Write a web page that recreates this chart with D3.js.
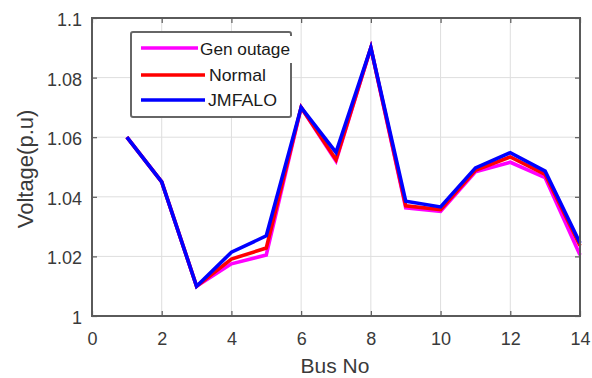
<!DOCTYPE html>
<html>
<head>
<meta charset="utf-8">
<script src="https://cdn.jsdelivr.net/npm/d3@7"></script>
<style>
  body { margin: 0; background: #fff; }
  text { font-family: "Liberation Sans", Arial, sans-serif; }
</style>
</head>
<body>
<svg id="chart" width="592" height="378"></svg>
<script>
// bus numbers and voltages
var buses = [1, 2, 3, 4, 5, 6, 7, 8, 9, 10, 11, 12, 13, 14];
var genOutage = [1.060, 1.045, 1.010, 1.0175, 1.0205, 1.070, 1.052, 1.090, 1.0363, 1.0351, 1.0484, 1.0516, 1.0464, 1.0205];
var normal    = [1.060, 1.045, 1.010, 1.0191, 1.0228, 1.070, 1.0525, 1.090, 1.037, 1.0357, 1.0489, 1.0534, 1.0475, 1.0236];
var jmfalo    = [1.060, 1.045, 1.010, 1.0214, 1.0269, 1.070, 1.0549, 1.090, 1.0385, 1.0366, 1.0497, 1.0548, 1.0486, 1.0245];
var xTicks = [0, 2, 4, 6, 8, 10, 12, 14];
var yTicks = [1, 1.02, 1.04, 1.06, 1.08, 1.1];
var seriesNames = ["Gen outage", "Normal", "JMFALO"];
var seriesColors = ["#ff00ff", "#ff0000", "#0000ff"];

var mLeft = 92, mRight = 580, mTop = 18, mBottom = 316;
var svg = d3.select("#chart");

var x = d3.scaleLinear().domain([0, 14]).range([mLeft, mRight]);
var y = d3.scaleLinear().domain([1, 1.1]).range([mBottom, mTop]);

// grid
svg.append("g").selectAll("line").data(xTicks.slice(1, -1)).enter().append("line")
  .attr("x1", d => x(d)).attr("x2", d => x(d)).attr("y1", mTop).attr("y2", mBottom)
  .attr("stroke", "#dedede").attr("stroke-width", 1);
svg.append("g").selectAll("line").data(yTicks.slice(1, -1)).enter().append("line")
  .attr("y1", d => y(d)).attr("y2", d => y(d)).attr("x1", mLeft).attr("x2", mRight)
  .attr("stroke", "#dedede").attr("stroke-width", 1);

// lines
var line = d3.line().x((d, i) => x(buses[i])).y(d => y(d));
[genOutage, normal, jmfalo].forEach(function(s, k) {
  svg.append("path").datum(s).attr("d", line)
    .attr("fill", "none").attr("stroke", seriesColors[k])
    .attr("stroke-width", 3.6).attr("stroke-linejoin", "miter");
});

// axes (box with ticks all round)
var axisColor = "#5a5a5a";
function styleAxis(g) {
  g.select(".domain").remove();
  g.selectAll(".tick line").attr("stroke", axisColor).attr("stroke-width", 1.2);
  g.selectAll(".tick text").attr("fill", "#3a3a3a").attr("font-size", 18)
    .attr("font-family", "Liberation Sans, Arial, sans-serif");
}
svg.append("g").attr("transform", "translate(0," + mBottom + ")")
  .call(d3.axisBottom(x).tickValues(xTicks).tickSizeInner(-5).tickSizeOuter(0).tickPadding(16))
  .call(styleAxis);
svg.append("g").attr("transform", "translate(0," + mTop + ")")
  .call(d3.axisTop(x).tickValues(xTicks).tickSizeInner(-5).tickSizeOuter(0).tickFormat(""))
  .call(styleAxis);
svg.append("g").attr("transform", "translate(" + mLeft + ",0)")
  .call(d3.axisLeft(y).tickValues(yTicks).tickSizeInner(-5).tickSizeOuter(0).tickPadding(10)
    .tickFormat(d3.format("~g")))
  .call(styleAxis)
  .selectAll(".tick text").attr("dy", "0.42em");
svg.append("g").attr("transform", "translate(" + mRight + ",0)")
  .call(d3.axisRight(y).tickValues(yTicks).tickSizeInner(-5).tickSizeOuter(0).tickFormat(""))
  .call(styleAxis);

svg.append("rect").attr("x", mLeft).attr("y", mTop)
  .attr("width", mRight - mLeft).attr("height", mBottom - mTop)
  .attr("fill", "none").attr("stroke", axisColor).attr("stroke-width", 2);

// axis titles
svg.append("text").attr("x", 335).attr("y", 373)
  .attr("text-anchor", "middle").attr("font-size", 21).attr("fill", "#3a3a3a").text("Bus No");
svg.append("text").attr("transform", "translate(33,169) rotate(-90)")
  .attr("text-anchor", "middle").attr("font-size", 22).attr("fill", "#3a3a3a").text("Voltage(p.u)");

// legend
var lg = svg.append("g");
lg.append("rect").attr("x", 131).attr("y", 32).attr("width", 160).attr("height", 85)
  .attr("rx", 2).attr("fill", "#fff").attr("stroke", "#666").attr("stroke-width", 2);
var legY = [48, 75, 100];
var lineEnd = [198, 205, 205];
var textX = [200, 209, 208];
var textLen = [90, 57, 69];
seriesNames.forEach(function(n, k) {
  lg.append("line").attr("x1", 141).attr("x2", lineEnd[k]).attr("y1", legY[k]).attr("y2", legY[k])
    .attr("stroke", seriesColors[k]).attr("stroke-width", 3.5);
  if (k === 0) {
    // the first label runs over the box edge in the original
    lg.append("rect").attr("x", 199).attr("y", 36).attr("width", 94).attr("height", 27).attr("fill", "#fff");
  }
  lg.append("text").attr("x", textX[k]).attr("y", legY[k] + (k === 0 ? 7 : 6))
    .attr("font-size", k === 0 ? 16 : 17)
    .attr("textLength", textLen[k]).attr("lengthAdjust", "spacingAndGlyphs")
    .attr("font-family", k === 0 ? "Open Sans, sans-serif" : "Liberation Sans, Arial, sans-serif")
    .attr("fill", "#1a1a1a").text(n);
});
</script>
</body>
</html>
